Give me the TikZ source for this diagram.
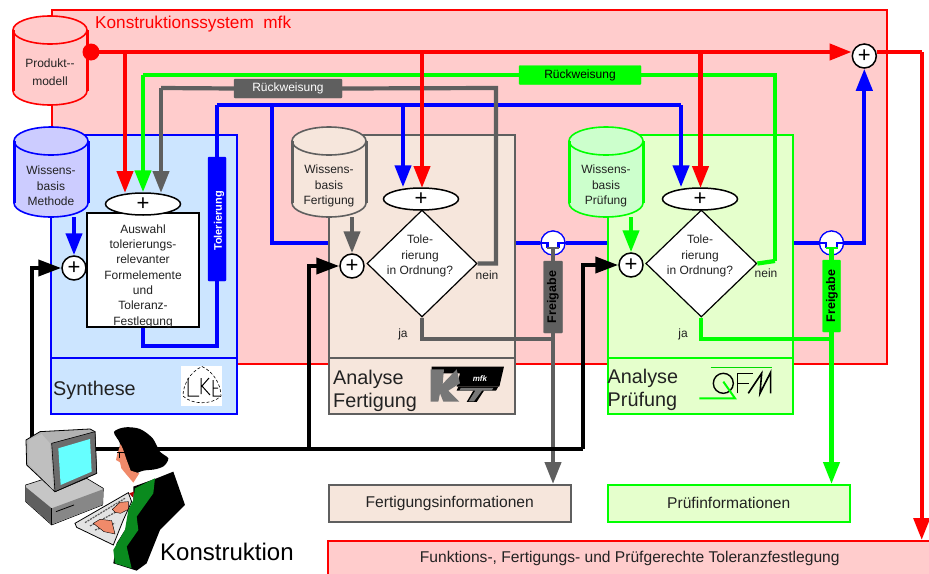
\documentclass[tikz,border=0pt]{standalone}
\usepackage{fontspec}
\setmainfont{Liberation Sans}
\usetikzlibrary{arrows.meta,shapes.geometric,calc}
\definecolor{pinkbg}{HTML}{FFCCCC}
\definecolor{bluebg}{HTML}{CCE5FF}
\definecolor{tanbg}{HTML}{F6E6DC}
\definecolor{greenbg}{HTML}{E5FFCC}
\definecolor{dbblue}{HTML}{CCCCFF}
\definecolor{dbgreen}{HTML}{CCFFCC}
\definecolor{grayl}{HTML}{5F5F5F}
\definecolor{purered}{HTML}{FF0000}
\definecolor{puregreen}{HTML}{00FF00}
\definecolor{pureblue}{HTML}{0000FF}
\definecolor{txt}{HTML}{222222}
\definecolor{skin}{HTML}{F08A6A}
\definecolor{scarf}{HTML}{0A8A1E}
\definecolor{scr}{HTML}{66FFFF}
\newcommand\labf{\fontsize{12}{15.3}\selectfont}
\newcommand\bigf{\fontsize{19.8}{22.5}\selectfont}
\newcommand\boxf{\fontsize{15.6}{18}\selectfont}
\tikzset{
  panel/.style={draw=#1,line width=1.5pt},
  conn/.style={draw=#1,line width=4.2pt},
  arr/.style={draw=#1,line width=4.2pt,-{Triangle[length=22pt,width=16pt,fill=#1]}},
  lab/.style={font=\labf,text=txt,align=center,inner sep=0pt},
  biglab/.style={font=\bigf,text=txt,align=left,inner sep=0pt,anchor=west},
  pluscirc/.style={circle,draw=black,fill=white,line width=1.5pt,minimum size=24pt,inner sep=0pt,font=\fontsize{22}{22}\selectfont},
  plusell/.style={ellipse,draw=black,fill=white,line width=1.5pt,minimum width=75pt,minimum height=22pt,inner sep=0pt,font=\fontsize{22}{22}\selectfont},
  dec/.style={diamond,draw=black,fill=white,line width=1.2pt,minimum width=#1,minimum height=107pt,inner sep=0pt,aspect=1,font=\labf,text=txt,align=center},
  tag/.style={draw=#1,fill=#1,rounded corners=1pt,inner sep=0pt},
  bridge/.style={circle,draw=pureblue,fill=white,line width=1.2pt,minimum size=24pt,inner sep=0pt},
}
% name, cx, top ellipse centre, bottom, fill, stroke, text centre y, text height
\newcommand\dbcyl[8]{%
  \fill[#5] ({#2-37},#3) -- ({#2-37},{#4-14}) arc[start angle=180,end angle=360,x radius=37pt,y radius=14pt] -- ({#2+37},#3) arc[start angle=0,end angle=180,x radius=37pt,y radius=14pt] -- cycle;
  \draw[#6,line width=1.6pt] (#2,#3) ellipse[x radius=37pt,y radius=14pt];
  \draw[#6,line width=3pt] ({#2-37},#3) -- ({#2-37},{#4-14});
  \draw[#6,line width=3pt] ({#2+37},#3) -- ({#2+37},{#4-14});
  \draw[#6,line width=1.6pt] ({#2-37},{#4-14}) arc[start angle=180,end angle=360,x radius=37pt,y radius=14pt];
  \node[lab,minimum width=74pt,minimum height=#8] (#1) at (#2,#7) {\phantom{}};
}
\begin{document}
\begin{tikzpicture}[x=1pt,y=-1pt]
\useasboundingbox (0,0) rectangle (929,573);
% panels
\node[panel=purered,fill=pinkbg,minimum width=835pt,minimum height=354pt,inner sep=0pt,anchor=north west] (sys) at (51,9) {};
\node[anchor=west,inner sep=0pt,text=purered,font=\fontsize{17.2}{20}\selectfont] (systxt) at (95,24) {Konstruktionssystem\ \ mfk};
\node[panel=pureblue,fill=bluebg,minimum width=186pt,minimum height=223pt,inner sep=0pt,anchor=north west] (syn) at (50,134) {};
\node[panel=pureblue,fill=bluebg,minimum width=186pt,minimum height=56pt,inner sep=0pt,anchor=north west] (synfoot) at (50,357) {};
\node[panel=grayl,fill=tanbg,minimum width=186pt,minimum height=223pt,inner sep=0pt,anchor=north west] (fert) at (328,134) {};
\node[panel=grayl,fill=tanbg,minimum width=186pt,minimum height=56pt,inner sep=0pt,anchor=north west] (fertfoot) at (328,357) {};
\node[panel=puregreen,fill=greenbg,minimum width=185pt,minimum height=223pt,inner sep=0pt,anchor=north west] (pruef) at (607,134) {};
\node[panel=puregreen,fill=greenbg,minimum width=185pt,minimum height=56pt,inner sep=0pt,anchor=north west] (pruefoot) at (607,357) {};
\node[biglab] (tsyn) at (53,390) {Synthese};
\node[biglab] (tfert) at (333,391) {Analyse\\Fertigung};
\node[biglab] (tpruef) at (607.5,390) {Analyse\\Prüfung};
% output boxes
\node[panel=grayl,fill=tanbg,minimum width=242pt,minimum height=37pt,inner sep=0pt,anchor=north west,text=txt,font=\boxf] (finfo) at (328,484) {\raisebox{-1pt}{Fertigungsinformationen}};
\node[panel=puregreen,fill=greenbg,minimum width=242pt,minimum height=37pt,inner sep=0pt,anchor=north west,text=txt,font=\boxf] (pinfo) at (607,484) {\raisebox{-1pt}{Prüfinformationen}};
\node[panel=purered,fill=pinkbg,minimum width=604pt,minimum height=36pt,inner sep=0pt,anchor=north west,text=txt,font=\boxf] (result) at (327,540) {Funktions-, Fertigungs- und Prüfgerechte Toleranzfestlegung};
% databases
\dbcyl{prod}{50}{30}{105}{pinkbg}{purered}{72}{66pt}
\dbcyl{wmeth}{51}{141}{217}{dbblue}{pureblue}{186}{62pt}
\dbcyl{wfert}{329}{141}{217}{tanbg}{grayl}{186}{62pt}
\dbcyl{wpruef}{606}{141}{217}{dbgreen}{puregreen}{186}{62pt}
\node[lab] (tprod) at (prod) {Produkt{-}{-}\\[3pt]modell};
\node[lab] (tmeth) at (wmeth) {Wissens-\\basis\\Methode};
\node[lab] (tfertw) at (wfert) {Wissens-\\basis\\Fertigung};
\node[lab] (tpruefw) at (wpruef) {Wissens-\\basis\\Prüfung};
% core nodes
\node[draw=black,fill=white,line width=1.5pt,minimum width=112pt,minimum height=114pt,inner sep=0pt] (ausw) at (143,270) {};
\node[lab] (auswt) at (143,276) {Auswahl\\tolerierungs-\\relevanter\\Formelemente\\und\\Toleranz-\\Festlegung};
\node[plusell] (e1) at (143,204) {+};
\node[plusell] (e2) at (421,199) {+};
\node[plusell] (e3) at (700,199) {+};
\node[pluscirc] (p1) at (74,268) {+};
\node[pluscirc] (p2) at (352,266) {+};
\node[pluscirc] (p3) at (631,265) {+};
\node[pluscirc] (p4) at (864.3,56) {+};
\node[dec=110pt] (d2) at (422,263.5) {};
\node[dec=111pt] (d3) at (701.3,263.5) {};
\node[lab] (d2t) at (420,256) {Tole-\\rierung\\in Ordnung?};
\node[lab] (d3t) at (700,256) {Tole-\\rierung\\in Ordnung?};
\node[lab] (n2) at (487,275) {nein};
\node[lab] (n3) at (766,273) {nein};
\node[lab] (j2) at (403,334) {ja};
\node[lab] (j3) at (683,334) {ja};
% tags
\node[tag=pureblue,minimum width=18pt,minimum height=124pt] (tol) at (217,219) {};
\node[rotate=90,text=white,inner sep=0pt,font=\fontsize{11}{12}\bfseries\selectfont] (tolt) at (219,221) {Tolerierung};
\node[tag=grayl,minimum width=108pt,minimum height=19pt,text=white,font=\labf] (rg) at (288,88.5) {Rückweisung};
\node[tag=puregreen,minimum width=122pt,minimum height=19pt,text=black,font=\labf] (rgr) at (580,75) {Rückweisung};
\node[tag=grayl,minimum width=19pt,minimum height=72pt] (fg) at (553,297) {};
\node[tag=puregreen,minimum width=18pt,minimum height=72pt] (fgr) at (831.5,296) {};
\node[rotate=90,inner sep=0pt,font=\fontsize{12.5}{13}\bfseries\selectfont] (fgt) at (553,297) {Freigabe};
\node[rotate=90,inner sep=0pt,font=\fontsize{12.5}{13}\bfseries\selectfont] (fgrt) at (832,296) {Freigabe};
\node[bridge] (b2) at (553,243) {};
\node[bridge] (b3) at (831.5,243) {};
% helper coordinates
\coordinate (gyT) at (775,75);
\coordinate (gyL) at (143,75);
\coordinate (gnein) at (775,261);
\coordinate (grayx) at (496,88);
\coordinate (bl1) at (217,105);
\coordinate (bl2) at (272,105);
\coordinate (bl3) at (403,105);
\coordinate (bl4) at (681,105);
\coordinate (bu) at (217,346);
\coordinate (bv) at (143,346);
\coordinate (dot) at (91,52);
\coordinate (rout) at (921.7,52);
\coordinate (mon) at (96,449);
\coordinate (bk1) at (32,437);
\coordinate (bk2) at (309,449);
\coordinate (bk3) at (583,449);
\coordinate (jf) at (553,339);
\coordinate (jp) at (831.5,339);
% blue
\draw[conn=pureblue] (bl1) -- (bl4);
\draw[conn=pureblue] (tol.north) -- (bl1);
\draw[conn=pureblue] (bl2) |- (fert.west |- b2);
\draw[arr=pureblue] (bl3) -- (bl3 |- e2.north);
\draw[arr=pureblue] (bl4) -- (bl4 |- e3.north);
\draw[conn=pureblue] (tol.south) -- (bu) -- (bv) -- (bv |- ausw.south);
\draw[conn=pureblue] (fert.east |- b2) -- (b2);
\draw[conn=pureblue] (b2) -- (pruef.west |- b2);
\draw[conn=pureblue] (pruef.east |- b3) -- (b3);
\draw[arr=pureblue] (b3) -| (p4.south);
\draw[arr=pureblue] (wmeth.south -| p1) -- (p1.north);
% bridges on top
\node[bridge] (b2b) at (b2) {};
\node[bridge] (b3b) at (b3) {};
\draw[pureblue,line width=2.5pt] (b2b.west) -- ++(7,0) -- ++(0,5);
\draw[pureblue,line width=2.5pt] (b2b.east) -- ++(-7,0) -- ++(0,5);
\draw[pureblue,line width=2.5pt] (b3b.west) -- ++(7,0) -- ++(0,5);
\draw[pureblue,line width=2.5pt] (b3b.east) -- ++(-7,0) -- ++(0,5);
% green
\draw[conn=puregreen] (gnein) -- (gyT) -- (rgr.east);
\draw[conn=puregreen] (rgr.west) -- (gyL);
\draw[arr=puregreen] (gyL) -- (gyL |- e1.north);
\draw[conn=puregreen] (d3.east) -- (gnein);
\draw[conn=puregreen] (d3.south) |- (jp);
\draw[conn=puregreen] (fgr.north) -- ($(b3b)+(0,5)$);
\draw[puregreen,line width=2.5pt] ($(b3b)+(-6,5)$) -- ($(b3b)+(6,5)$);
\draw[arr=puregreen] (fgr.south) -- (fgr.south |- pinfo.north);
\draw[arr=puregreen] (wpruef.south -| p3) -- (p3.north);
% gray
\draw[conn=grayl] (rg.east) -- (grayx) -- (grayx |- d2.east) -- (d2.east);
\draw[conn=grayl] (rg.west) -- (161,88);
\draw[arr=grayl] (161,88) -- (161,193);
\draw[conn=grayl] (d2.south) |- (jf);
\draw[conn=grayl] (fg.north) -- ($(b2b)+(0,5)$);
\draw[grayl,line width=2.5pt] ($(b2b)+(-6,5)$) -- ($(b2b)+(6,5)$);
\draw[arr=grayl] (fg.south) -- (fg.south |- finfo.north);
\draw[arr=grayl] (wfert.south -| p2) -- (p2.north);
% red
\draw[arr=purered] (dot) -- (p4.west |- dot);
\draw[arr=purered] (125,52) -- (125,193);
\draw[arr=purered] (422,52) -- (422,188);
\draw[arr=purered] (700.5,52) -- (700.5,188);
\draw[conn=purered] (p4.east |- rout) -- (rout);
\draw[arr=purered] (rout) -- (rout |- result.north);
\fill[purered] (dot) circle[radius=8.5pt];
% black
\draw[black,line width=4.5pt] (mon) -- (458,449);
\draw[black,line width=3.4pt,rounded corners=1pt] (458,449) -- (bk3);
\draw[black,line width=4pt,-{Triangle[length=23pt,width=16pt]}] (bk1) |- (p1.west);
\draw[black,line width=4pt,-{Triangle[length=23pt,width=16pt]}] (bk2) |- (p2.west);
\draw[black,line width=4pt,-{Triangle[length=23pt,width=16pt]}] (bk3) |- (p3.west);
% LKE logo
\fill[white] (181,366) rectangle (222,406);
\draw[black,line width=.6pt,densely dashed] (202,366.5) .. controls (214,372) and (221,385) .. (221,396) .. controls (212,405) and (192,405) .. (183,396) .. controls (183,385) and (190,372) .. (202,366.5);
\draw[black,line width=1pt] (188,378) -- (188,396) -- (199,396) (201,378) -- (201,394) (209,378) -- (202,386) -- (210,395) (213,380) -- (213,396) -- (220,396) (213,388) -- (218,388);
% KfT logo
\begin{scope}[shift={(300,120)},x=.3333pt,y=-.3333pt]
\fill[black] (395,740) -- (612,740) -- (598,800) -- (470,800) -- (480,760) -- (395,760) -- cycle;
\fill[grayl!85] (392,748) -- (432,748) -- (428,792) -- (470,748) -- (480,790) -- (445,812) -- (478,845) -- (430,845) -- (420,820) -- (415,845) -- (392,845) -- cycle;
\fill[black] (475,800) -- (595,800) -- (588,812) -- (552,812) -- (530,846) -- (500,846) -- (520,812) -- (470,812) -- cycle;
\fill[grayl!85] (482,804) -- (580,804) -- (575,812) -- (546,812) -- (522,844) -- (506,844) -- (526,812) -- (478,812) -- cycle;
\node[inner sep=0pt,text=white,font=\fontsize{8}{8}\bfseries\itshape\selectfont] (kft) at (540,775) {mfk};
\end{scope}
% QFM logo
\begin{scope}[shift={(560,120)},x=.3333pt,y=-.3333pt]
\draw[puregreen!85!black,line width=1.6pt] (452,742) -- (635,742);
\draw[black,line width=1.4pt] (490,790) ellipse[x radius=10pt,y radius=10pt];
\draw[black,line width=1.6pt] (532,820) -- (532,760) -- (578,760) (532,790) -- (566,790);
\draw[black,line width=1.6pt] (565,820) -- (605,760) -- (600,820) -- (632,757) -- (632,820);
\draw[puregreen,line width=2pt] (490,785) -- (525,835) -- (418,835);
\end{scope}
% person
\begin{scope}[shift={(0,230)},x=.3333pt,y=-.3333pt]
% base
\filldraw[fill=gray!45!white,draw=black,line width=.6pt] (77,765) -- (130,748) -- (165,785) -- (260,745) -- (310,775) -- (308,825) -- (155,885) -- (77,815) -- cycle;
\fill[grayl] (78,772) -- (155,835) -- (155,883) -- (78,815) -- cycle;
\fill[grayl!75] (155,835) -- (309,778) -- (308,824) -- (155,883) -- cycle;
\draw[black,line width=.8pt] (168,845) -- (222,825);
\draw[black,line width=.6pt] (155,835) -- (155,885);
% monitor
\filldraw[fill=gray!60!white,draw=black,line width=.8pt] (78,630) -- (120,605) -- (270,597) -- (285,605) -- (290,730) -- (165,785) -- (80,705) -- cycle;
\fill[gray!50!white] (85,630) -- (125,612) -- (150,640) -- (160,780) -- (85,702) -- cycle;
\filldraw[fill=gray!85!black,draw=black,line width=.6pt] (155,640) -- (285,605) -- (290,730) -- (165,785) -- cycle;
\fill[scr] (175,655) -- (270,627) -- (275,725) -- (182,765) -- cycle;
% keyboard
\filldraw[fill=gray!22,draw=black,line width=.8pt] (225,880) -- (385,788) -- (395,815) -- (370,870) -- (340,945) -- (230,892) -- cycle;
\draw[gray!70!black,line width=1.2pt,dash pattern=on 2pt off 1pt] (255,878) -- (375,805) (270,888) -- (350,845) (285,900) -- (345,880);
% jacket + hair
\fill[black] (400,770) -- (470,745) -- (520,725) -- (555,825) -- (480,900) -- (440,1000) -- (410,1022) -- (340,1000) -- (350,940) -- (400,860) -- cycle;
\fill[black] plot[smooth cycle,tension=.5] coordinates {(342,606) (375,592) (420,597) (458,625) (480,665) (505,685) (492,708) (465,718) (430,722) (395,732) (376,700) (356,670) (360,640)};
\fill[skin] (362,642) -- (352,672) -- (348,690) -- (360,697) -- (364,715) -- (378,732) -- (400,758) -- (418,730) -- (392,722) -- (380,690) -- (370,660) -- cycle;
\draw[black,line width=.7pt] (350,668) -- (382,668) (358,668) -- (358,685);
\fill[scarf] (405,775) -- (465,745) -- (460,790) -- (410,860) -- (415,900) -- (380,950) -- (395,1015) -- (345,1000) -- (340,960) -- (375,900) -- (385,840) -- (400,810) -- cycle;
\fill[purered!70!black] (388,790) -- (402,785) -- (398,802) -- cycle;
\filldraw[fill=skin,draw=black,line width=.4pt] (337,838) -- (360,817) -- (385,815) -- (385,838) -- (362,850) -- (345,847) -- cycle;
\filldraw[fill=skin,draw=black,line width=.4pt] (280,880) -- (300,868) -- (335,872) -- (345,912) -- (312,905) -- (295,892) -- cycle;
\end{scope}
\node[inner sep=0pt,anchor=west,text=black,font=\fontsize{24}{28}\selectfont] (kon) at (160,552) {Konstruktion};
\end{tikzpicture}
\end{document}
